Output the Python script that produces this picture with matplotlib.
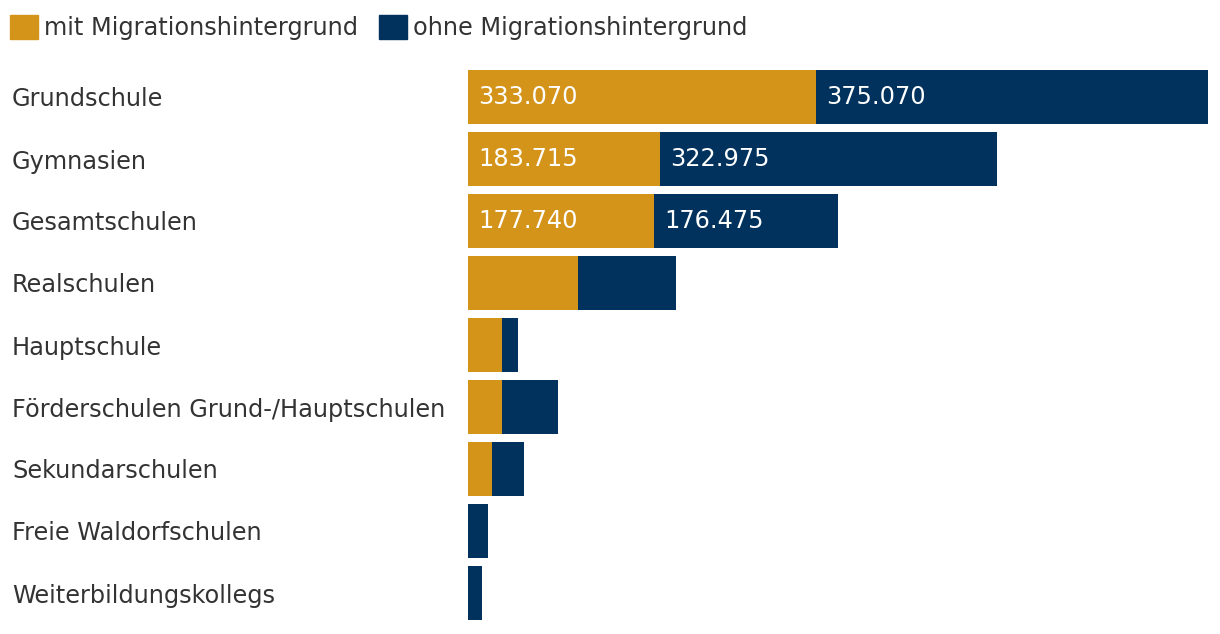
import numpy as np
import matplotlib.pyplot as plt
from matplotlib.patches import Patch

# Schulformen (top to bottom)
schulformen = [
    "Grundschule",
    "Gymnasien",
    "Gesamtschulen",
    "Realschulen",
    "Hauptschule",
    "Förderschulen Grund-/Hauptschulen",
    "Sekundarschulen",
    "Freie Waldorfschulen",
    "Weiterbildungskollegs",
]
mit_migration = [333070, 183715, 177740, 105300, 32500, 32500, 23000, 0, 0]
ohne_migration = [375070, 322975, 176475, 93800, 15300, 53600, 30600, 19100, 13400]

col_mit = "#d4941a"
col_ohne = "#00325d"
text_col = "#333333"
fs = 17.3

fig = plt.figure(figsize=(12.2, 6.34), dpi=100)
ax = fig.add_axes([468 / 1220, 1 - 624 / 634, 740 / 1220, 558 / 634])

y = np.arange(len(schulformen))
mit = np.array(mit_migration)
ohne = np.array(ohne_migration)

ax.barh(y, mit, height=0.87, color=col_mit, label="mit Migrationshintergrund")
ax.barh(y, ohne, left=mit, height=0.87, color=col_ohne, label="ohne Migrationshintergrund")

ax.set_xlim(0, (mit + ohne).max())
ax.set_ylim(len(schulformen) - 0.5, -0.5)

# value labels inside the large segments
def fmt(v):
    return f"{v:,}".replace(",", ".")

for i in range(len(schulformen)):
    if mit[i] > 150000:
        ax.annotate(fmt(mit[i]), (0, i), xytext=(7.5, 0), textcoords="offset points",
                    va="center", ha="left", color="white", fontsize=fs)
    if ohne[i] > 150000:
        ax.annotate(fmt(ohne[i]), (mit[i], i), xytext=(7.5, 0), textcoords="offset points",
                    va="center", ha="left", color="white", fontsize=fs)

# category labels, left aligned at the figure edge
ax.set_yticks(y)
ax.set_yticklabels(schulformen, fontsize=fs, color=text_col, ha="left")
ax.tick_params(axis="y", length=0, pad=456 * 72 / 100)
ax.set_xticks([])
for s in ax.spines.values():
    s.set_visible(False)

handles = [Patch(color=col_mit), Patch(color=col_ohne)]
fig.legend(handles, ["mit Migrationshintergrund", "ohne Migrationshintergrund"],
           loc="upper left", bbox_to_anchor=(-2 / 1220, 1 - 3 / 634), ncol=2, frameon=False,
           fontsize=fs, handlelength=1.17, handleheight=1.17, handletextpad=0.25,
           columnspacing=0.88, borderaxespad=0.2, borderpad=0.3, labelcolor=text_col)

fig.savefig("out.png", dpi=100)
